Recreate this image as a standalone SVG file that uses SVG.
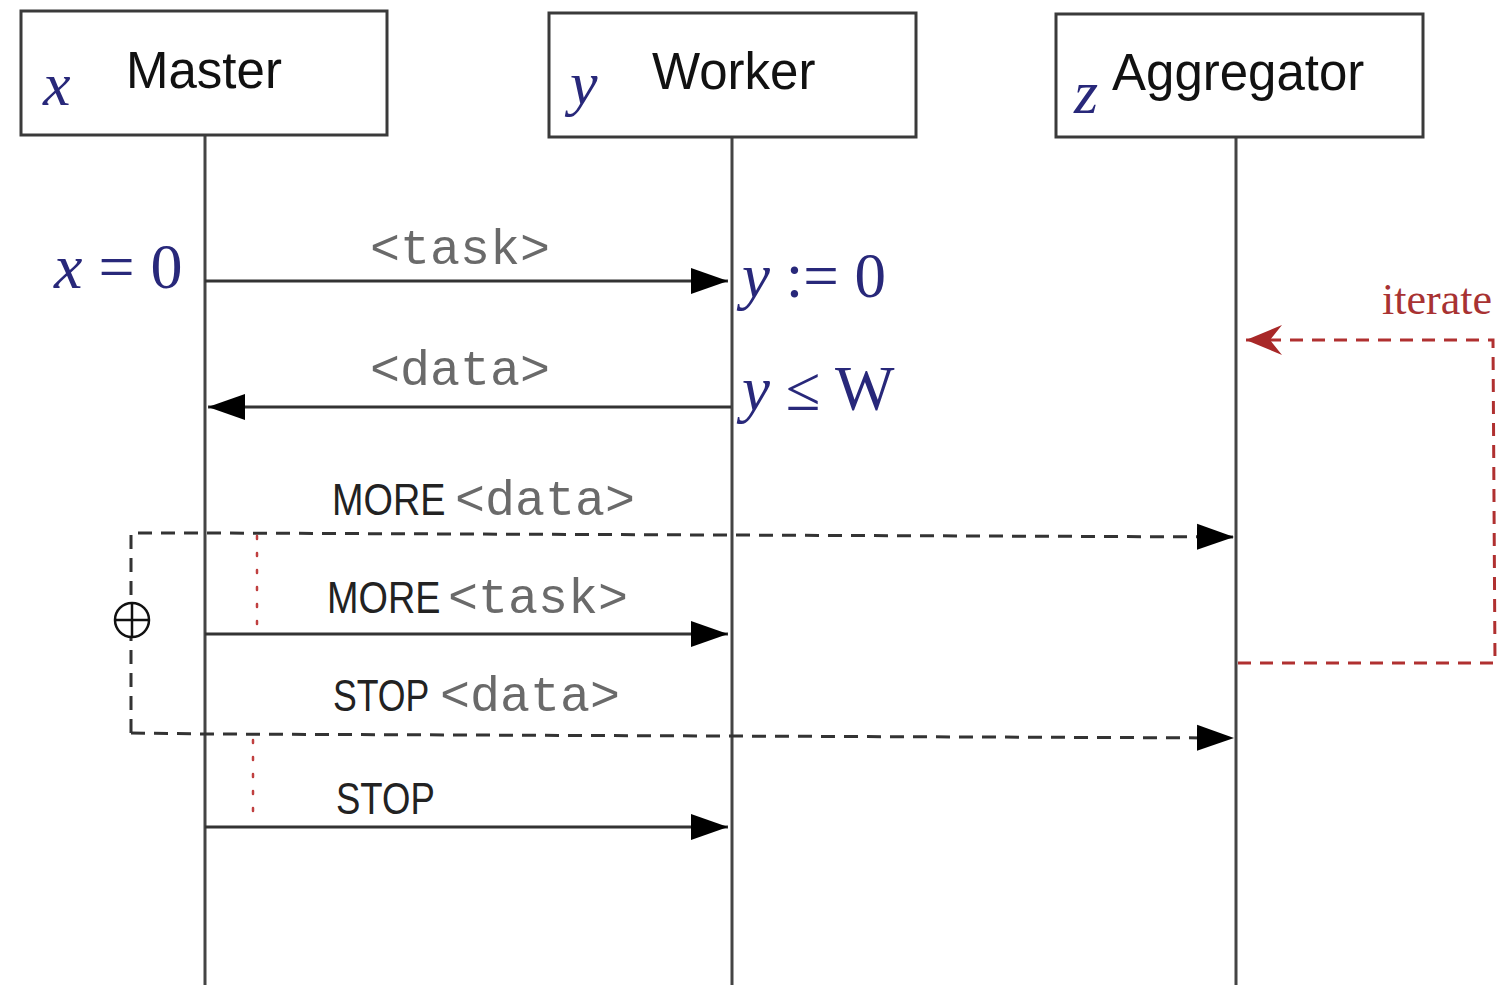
<svg xmlns="http://www.w3.org/2000/svg" width="1502" height="985" viewBox="0 0 1502 985">
  <style>
    .box { fill: #fff; stroke: #3a3a3a; stroke-width: 3; }
    .life { stroke: #444; stroke-width: 3; fill: none; }
    .msg { stroke: #333; stroke-width: 3; fill: none; }
    .dash { stroke: #333; stroke-width: 3; fill: none; stroke-dasharray: 14 9; }
    .iter { stroke: #b03030; stroke-width: 3; fill: none; stroke-dasharray: 13 9; }
    .dot { stroke: #c04040; stroke-width: 2.5; fill: none; stroke-dasharray: 3 14; stroke-linecap: round; }
    .title { font-family: "Liberation Sans", Arial, sans-serif; font-size: 51px; fill: #111; }
    .math { font-family: "Liberation Serif", "Times New Roman", serif; fill: #28287a; }
    .it { font-style: italic; }
    .mono { font-family: "Liberation Mono", "Courier New", monospace; font-size: 50px; fill: #6a6a6a; }
    .kw { font-family: "Liberation Sans", Arial, sans-serif; font-size: 44px; fill: #222; }
    .red { font-family: "Liberation Serif", "Times New Roman", serif; font-size: 44px; fill: #a83232; }
  </style>
  <defs>
    <marker id="solid" markerUnits="userSpaceOnUse" markerWidth="38" markerHeight="28" viewBox="0 0 38 28" refX="37" refY="14" orient="auto">
      <path d="M0,1 L37,14 L0,27 z" fill="#000"/>
    </marker>
    <marker id="barb" markerUnits="userSpaceOnUse" markerWidth="40" markerHeight="32" viewBox="0 0 40 32" refX="38" refY="16" orient="auto">
      <path d="M2,1 L38,16 L2,31 L14,16 z" fill="#a82828"/>
    </marker>
  </defs>

  <!-- lifelines -->
  <g id="lifelines">
    <line class="life" x1="205" y1="135" x2="205" y2="985"/>
    <line class="life" x1="732" y1="137" x2="732" y2="985"/>
    <line class="life" x1="1236" y1="137" x2="1236" y2="985"/>
  </g>

  <g id="master">
    <rect class="box" x="21" y="11" width="366" height="124"/>
    <text class="title" x="126" y="88">Master</text>
    <text class="math it" x="43" y="105" font-size="62">x</text>
  </g>

  <g id="worker">
    <rect class="box" x="549" y="13" width="367" height="124"/>
    <text class="title" x="652" y="89">Worker</text>
    <text class="math it" x="570" y="104" font-size="62">y</text>
  </g>

  <g id="aggregator">
    <rect class="box" x="1056" y="14" width="367" height="123"/>
    <text class="title" x="1112" y="90">Aggregator</text>
    <text class="math it" x="1074" y="113" font-size="62">z</text>
  </g>

  <!-- state annotations -->
  <g id="state-labels">
    <text class="math" x="54" y="288" font-size="64"><tspan class="it">x</tspan> = 0</text>
    <text class="math" x="742" y="297" font-size="63"><tspan class="it">y</tspan> := 0</text>
    <text class="math" x="742" y="410" font-size="63"><tspan class="it">y</tspan> ≤ W</text>
  </g>

  <!-- connectors -->
  <g id="connectors">
    <line class="msg" x1="205" y1="281" x2="728" y2="281" marker-end="url(#solid)"/>
    <line class="msg" x1="731" y1="407" x2="208" y2="407" marker-end="url(#solid)"/>
    <polyline class="dash" points="131,733 131,533 205,533 1234,537" marker-end="url(#solid)"/>
    <line class="msg" x1="205" y1="634" x2="728" y2="634" marker-end="url(#solid)"/>
    <polyline class="dash" points="131,733 205,734 1234,738" marker-end="url(#solid)"/>
    <line class="msg" x1="205" y1="827" x2="728" y2="827" marker-end="url(#solid)"/>

    <line class="dot" x1="257" y1="536" x2="257" y2="630"/>
    <line class="dot" x1="253" y1="740" x2="253" y2="815"/>

    <polyline class="iter" points="1238,663 1495,663 1493,340 1246,340" marker-end="url(#barb)"/>
  </g>

  <!-- message labels: keywords are horizontally condensed sans -->
  <g id="message-labels">
    <text class="mono" x="370" y="264">&lt;task&gt;</text>
    <text class="mono" x="370" y="385">&lt;data&gt;</text>
    <text class="kw" transform="translate(332,515) scale(0.86,1)">MORE</text>
    <text class="mono" x="455" y="515">&lt;data&gt;</text>
    <text class="kw" transform="translate(327,613) scale(0.86,1)">MORE</text>
    <text class="mono" x="448" y="613">&lt;task&gt;</text>
    <text class="kw" transform="translate(333,711) scale(0.81,1)">STOP</text>
    <text class="mono" x="440" y="711">&lt;data&gt;</text>
    <text class="kw" transform="translate(336,814) scale(0.83,1)">STOP</text>
  </g>

  <!-- merge symbol on the dashed frame -->
  <g id="merge" stroke="#111" stroke-width="2.5" fill="#fff">
    <circle cx="132" cy="620" r="17"/>
    <line x1="132" y1="603" x2="132" y2="637"/>
    <line x1="115" y1="620" x2="149" y2="620"/>
  </g>

  <text class="red" x="1492" y="314" text-anchor="end">iterate</text>
</svg>
